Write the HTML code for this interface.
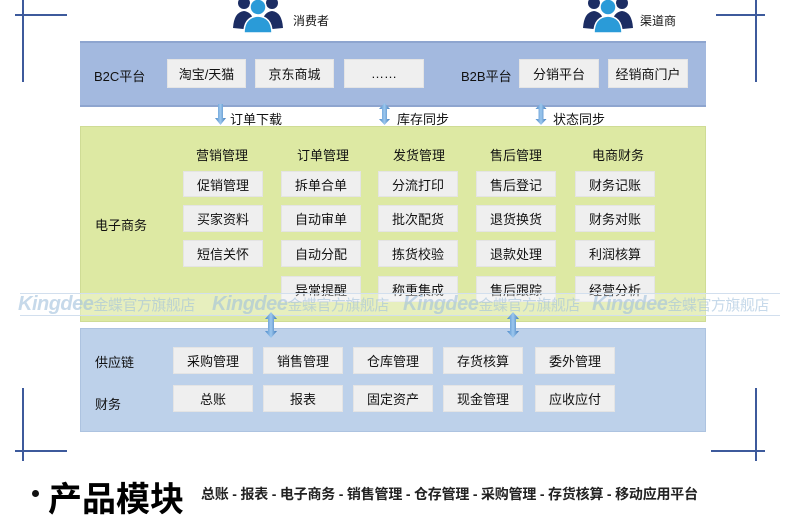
<!DOCTYPE html>
<html><head><meta charset="utf-8"><style>
*{margin:0;padding:0;box-sizing:border-box}
body{width:790px;height:516px;background:#fff;position:relative;overflow:hidden;font-family:"Liberation Sans","Noto Sans CJK SC",sans-serif;color:#111}
.a{position:absolute}
.b{position:absolute;background:#efefef;font-size:13px;display:flex;align-items:center;justify-content:center;border:1px solid #e4e4e4}
.t{position:absolute;font-size:13px;white-space:nowrap}
.ln{position:absolute;background:#3d5a9c}
.wm{position:absolute;top:293px;font-size:20px;color:rgba(160,192,220,.6);font-style:italic;font-weight:bold;letter-spacing:-0.5px;white-space:nowrap}
.wm span{font-size:15px;font-style:normal;font-weight:normal}
</style></head><body>
<div class="ln" style="left:15px;top:14px;width:52px;height:1.5px"></div>
<div class="ln" style="left:22px;top:0;width:1.5px;height:82px"></div>
<div class="ln" style="left:716px;top:14px;width:49px;height:1.5px"></div>
<div class="ln" style="left:755px;top:0;width:1.5px;height:82px"></div>
<div class="ln" style="left:15px;top:450px;width:52px;height:1.5px"></div>
<div class="ln" style="left:22px;top:388px;width:1.5px;height:73px"></div>
<div class="ln" style="left:711px;top:450px;width:54px;height:1.5px"></div>
<div class="ln" style="left:755px;top:388px;width:1.5px;height:73px"></div>

<svg class="a" style="left:232px;top:0" width="52" height="34" viewBox="0 0 52 34">
<circle cx="12" cy="3" r="6" fill="#1c2d63"/><circle cx="40" cy="3" r="6" fill="#1c2d63"/>
<path d="M1 28 Q2 12 12 11 Q20 12 22 22 L22 30 Z" fill="#1c2d63"/><path d="M51 28 Q50 12 40 11 Q32 12 30 22 L30 30 Z" fill="#1c2d63"/>
<circle cx="26" cy="7" r="8" fill="#2a9bd8" stroke="#fff" stroke-width="1.5"/>
<path d="M12 33 Q12 17 26 16 Q40 17 40 33 Z" fill="#2a9bd8" stroke="#fff" stroke-width="1.5"/>
</svg>
<div class="t" style="left:293px;top:12px;font-size:12px">消费者</div>
<svg class="a" style="left:582px;top:0" width="52" height="34" viewBox="0 0 52 34">
<circle cx="12" cy="3" r="6" fill="#1c2d63"/><circle cx="40" cy="3" r="6" fill="#1c2d63"/>
<path d="M1 28 Q2 12 12 11 Q20 12 22 22 L22 30 Z" fill="#1c2d63"/><path d="M51 28 Q50 12 40 11 Q32 12 30 22 L30 30 Z" fill="#1c2d63"/>
<circle cx="26" cy="7" r="8" fill="#2a9bd8" stroke="#fff" stroke-width="1.5"/>
<path d="M12 33 Q12 17 26 16 Q40 17 40 33 Z" fill="#2a9bd8" stroke="#fff" stroke-width="1.5"/>
</svg>
<div class="t" style="left:640px;top:12px;font-size:12px">渠道商</div>

<div class="a" style="left:80px;top:41px;width:626px;height:66px;background:#a3b9df;border-top:2px solid #8ea5cf;border-bottom:2px solid #8ea5cf"></div>
<div class="t" style="left:94px;top:66px">B2C平台</div>
<div class="b" style="left:167px;top:59px;width:79px;height:29px">淘宝/天猫</div>
<div class="b" style="left:255px;top:59px;width:79px;height:29px">京东商城</div>
<div class="b" style="left:344px;top:59px;width:80px;height:29px">……</div>
<div class="t" style="left:461px;top:66px">B2B平台</div>
<div class="b" style="left:519px;top:59px;width:80px;height:29px">分销平台</div>
<div class="b" style="left:608px;top:59px;width:80px;height:29px">经销商门户</div>

<svg class="a" style="left:0;top:0" width="790" height="516">
<defs><linearGradient id="g" x1="0" x2="1"><stop offset="0" stop-color="#4a88c8"/><stop offset=".5" stop-color="#9cc7ee"/><stop offset="1" stop-color="#3a76b8"/></linearGradient></defs>
<path d="M218 104 h5 v14 h3 l-5.5 7 l-5.5 -7 h3 z" fill="url(#g)"/>
<path d="M384.5 103 l5.5 6 h-3 v10 h3 l-5.5 6 l-5.5 -6 h3 v-10 h-3 z" fill="url(#g)"/>
<path d="M541 103 l5.5 6 h-3 v10 h3 l-5.5 6 l-5.5 -6 h3 v-10 h-3 z" fill="url(#g)"/>
</svg>
<div class="t" style="left:230px;top:109px">订单下载</div>
<div class="t" style="left:397px;top:109px">库存同步</div>
<div class="t" style="left:553px;top:109px">状态同步</div>

<div class="a" style="left:80px;top:126px;width:626px;height:196px;background:#dde9a3;border:1px solid #cfdc95"></div>
<div class="t" style="left:95px;top:215px">电子商务</div>
<div class="t" style="left:196px;top:145px">营销管理</div>
<div class="t" style="left:297px;top:145px">订单管理</div>
<div class="t" style="left:393px;top:145px">发货管理</div>
<div class="t" style="left:490px;top:145px">售后管理</div>
<div class="t" style="left:592px;top:145px">电商财务</div>

<div class="b" style="left:183px;top:171px;width:80px;height:26px">促销管理</div>
<div class="b" style="left:183px;top:205px;width:80px;height:27px">买家资料</div>
<div class="b" style="left:183px;top:240px;width:80px;height:27px">短信关怀</div>
<div class="b" style="left:281px;top:171px;width:80px;height:26px">拆单合单</div>
<div class="b" style="left:281px;top:205px;width:80px;height:27px">自动审单</div>
<div class="b" style="left:281px;top:240px;width:80px;height:27px">自动分配</div>
<div class="b" style="left:281px;top:276px;width:80px;height:26px">异常提醒</div>
<div class="b" style="left:378px;top:171px;width:80px;height:26px">分流打印</div>
<div class="b" style="left:378px;top:205px;width:80px;height:27px">批次配货</div>
<div class="b" style="left:378px;top:240px;width:80px;height:27px">拣货校验</div>
<div class="b" style="left:378px;top:276px;width:80px;height:26px">称重集成</div>
<div class="b" style="left:476px;top:171px;width:80px;height:26px">售后登记</div>
<div class="b" style="left:476px;top:205px;width:80px;height:27px">退货换货</div>
<div class="b" style="left:476px;top:240px;width:80px;height:27px">退款处理</div>
<div class="b" style="left:476px;top:276px;width:80px;height:26px">售后跟踪</div>
<div class="b" style="left:575px;top:171px;width:80px;height:26px">财务记账</div>
<div class="b" style="left:575px;top:205px;width:80px;height:27px">财务对账</div>
<div class="b" style="left:575px;top:240px;width:80px;height:27px">利润核算</div>
<div class="b" style="left:575px;top:276px;width:80px;height:26px">经营分析</div>

<div class="a" style="left:20px;top:293px;width:760px;height:23px;background:rgba(255,255,255,.3);border-top:1px solid #d2dfee;border-bottom:1px solid #d2dfee"></div>
<div class="wm" style="left:18px">Kingdee<span>金蝶官方旗舰店</span></div>
<div class="wm" style="left:212px">Kingdee<span>金蝶官方旗舰店</span></div>
<div class="wm" style="left:403px">Kingdee<span>金蝶官方旗舰店</span></div>
<div class="wm" style="left:592px">Kingdee<span>金蝶官方旗舰店</span></div>

<div class="a" style="left:80px;top:328px;width:626px;height:104px;background:#bdd1ea;border:1px solid #adc3e0"></div>
<svg class="a" style="left:0;top:0" width="790" height="516">
<defs><linearGradient id="g2" x1="0" x2="1"><stop offset="0" stop-color="#4a88c8"/><stop offset=".5" stop-color="#9cc7ee"/><stop offset="1" stop-color="#3a76b8"/></linearGradient></defs>
<path d="M271 312 l6 7 h-3 v12 h3 l-6 7 l-6 -7 h3 v-12 h-3 z" fill="url(#g2)"/>
<path d="M513 312 l6 7 h-3 v12 h3 l-6 7 l-6 -7 h3 v-12 h-3 z" fill="url(#g2)"/>
</svg>
<div class="t" style="left:95px;top:352px">供应链</div>
<div class="t" style="left:95px;top:394px">财务</div>
<div class="b" style="left:173px;top:347px;width:80px;height:27px">采购管理</div>
<div class="b" style="left:263px;top:347px;width:80px;height:27px">销售管理</div>
<div class="b" style="left:353px;top:347px;width:80px;height:27px">仓库管理</div>
<div class="b" style="left:443px;top:347px;width:80px;height:27px">存货核算</div>
<div class="b" style="left:535px;top:347px;width:80px;height:27px">委外管理</div>
<div class="b" style="left:173px;top:385px;width:80px;height:27px">总账</div>
<div class="b" style="left:263px;top:385px;width:80px;height:27px">报表</div>
<div class="b" style="left:353px;top:385px;width:80px;height:27px">固定资产</div>
<div class="b" style="left:443px;top:385px;width:80px;height:27px">现金管理</div>
<div class="b" style="left:535px;top:385px;width:80px;height:27px">应收应付</div>

<div class="a" style="left:32px;top:490px;width:7px;height:7px;border-radius:50%;background:#111"></div>
<div class="t" style="left:48px;top:472px;font-size:34px;font-weight:bold;color:#000">产品模块</div>
<div class="t" style="left:201px;top:484px;font-size:14px;font-weight:bold;color:#222;letter-spacing:-0.2px">总账 - 报表 - 电子商务 - 销售管理 - 仓存管理 - 采购管理 - 存货核算 - 移动应用平台</div>
</body></html>
